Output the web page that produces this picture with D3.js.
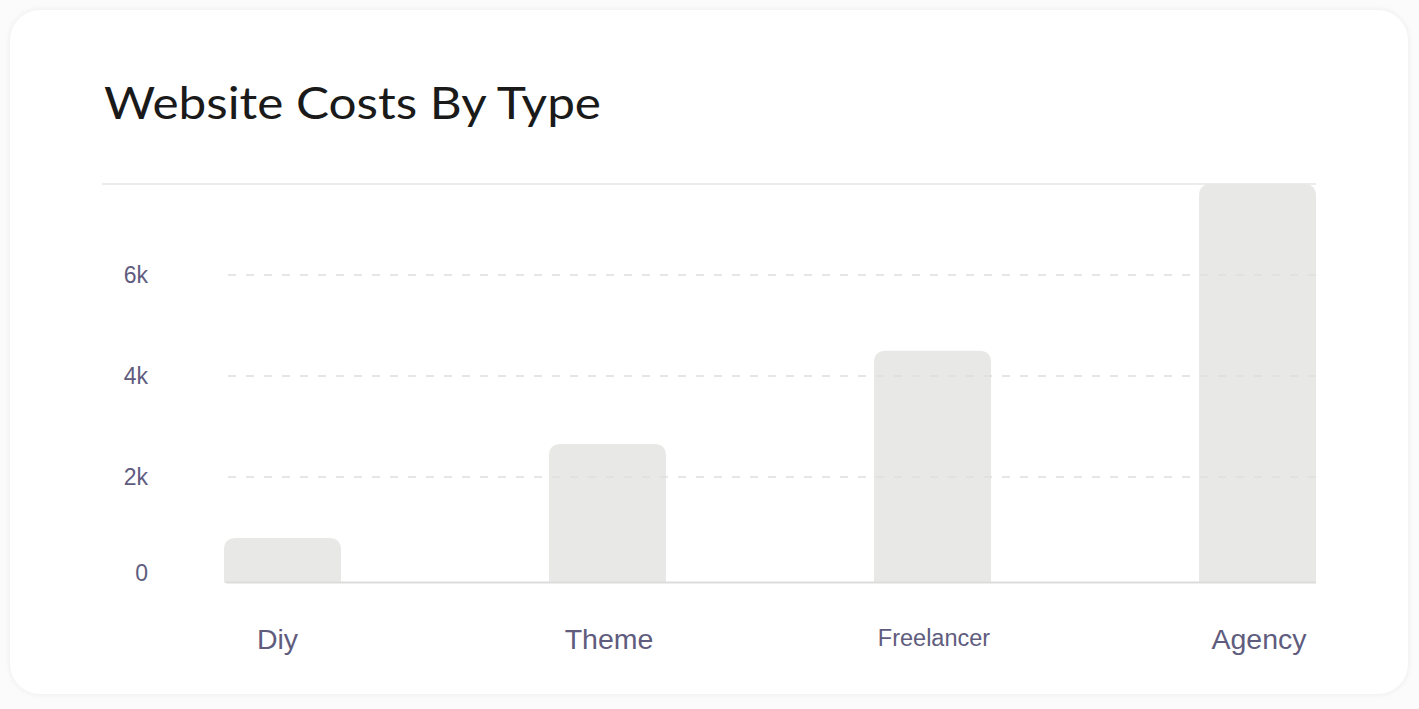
<!DOCTYPE html>
<html>
<head>
<meta charset="utf-8">
<script src="https://cdn.jsdelivr.net/npm/d3@7"></script>
<style>
  html, body { margin: 0; padding: 0; background: #fbfbfb; }
  #card {
    position: absolute; left: 10px; top: 10px; width: 1398px; height: 684px;
    background: #fff; border-radius: 30px;
    box-shadow: 0 0 6px rgba(0,0,0,0.07);
  }
  svg { position: absolute; left: 0; top: 0; }
</style>
</head>
<body>
<div id="card"></div>
<svg id="chart" width="1419" height="709"></svg>
<script>
var categories = ["Diy", "Theme", "Freelancer", "Agency"];
var costs = [790, 2650, 4500, 7800];
var yTicks = [0, 2000, 4000, 6000];
var tickLabels = ["0", "2k", "4k", "6k"];
var labelSizes = [28.5, 28.5, 23.5, 28.5];

var svg = d3.select("#chart");

var x = d3.scaleBand().domain(categories).range([224, 1316]).paddingInner(0.64).paddingOuter(0);
var y = d3.scaleLinear().domain([-100, 7800]).range([583, 184]);

// title
svg.append("text")
  .attr("x", 104).attr("y", 119)
  .attr("font-family", "Lato, 'Noto Sans', sans-serif")
  .attr("font-weight", 400)
  .attr("font-size", 45)
  .attr("fill", "#1a1a1a")
  .attr("textLength", 497)
  .attr("lengthAdjust", "spacingAndGlyphs")
  .text("Website Costs By Type");

// top rule
svg.append("line")
  .attr("x1", 102).attr("x2", 1316)
  .attr("y1", y(7800)).attr("y2", y(7800))
  .attr("stroke", "#e6e6e6").attr("stroke-width", 1.5);

// bars with rounded tops
var r = 12;
var barPath = function(d, i) {
  var x0 = x(categories[i]), w = x.bandwidth();
  var top = y(d), bottom = y.range()[0];
  return "M" + x0 + "," + bottom +
    "V" + (top + r) +
    "Q" + x0 + "," + top + " " + (x0 + r) + "," + top +
    "H" + (x0 + w - r) +
    "Q" + (x0 + w) + "," + top + " " + (x0 + w) + "," + (top + r) +
    "V" + bottom + "Z";
};
svg.append("g").selectAll("path")
  .data(costs)
  .join("path")
  .attr("d", barPath)
  .attr("fill", "#e8e8e6");

// baseline
svg.append("line")
  .attr("x1", 226).attr("x2", 1316)
  .attr("y1", 582.5).attr("y2", 582.5)
  .attr("stroke", "#dcdcdc").attr("stroke-width", 2);

// dashed grid
svg.append("g").selectAll("line")
  .data(yTicks.slice(1))
  .join("line")
  .attr("x1", 228).attr("x2", 1316)
  .attr("y1", function(d) { return y(d); })
  .attr("y2", function(d) { return y(d); })
  .attr("stroke", "#dedede").attr("stroke-width", 1.5)
  .attr("stroke-dasharray", "8,10");

// y labels
svg.append("g").selectAll("text")
  .data(yTicks)
  .join("text")
  .attr("x", 148)
  .attr("y", function(d, i) { return y(d) + (i === 0 ? 3 : 8); })
  .attr("text-anchor", "end")
  .attr("font-family", "'Liberation Sans', Arial, sans-serif")
  .attr("font-size", 23)
  .attr("fill", "#605c7e")
  .text(function(d, i) { return tickLabels[i]; });

// x labels
svg.append("g").selectAll("text")
  .data(categories)
  .join("text")
  .attr("x", function(d, i) { return x(d) + x.bandwidth() / 2 + (i === 0 ? -5 : 1.5); })
  .attr("y", function(d, i) { return i === 2 ? 646 : 649; })
  .attr("text-anchor", "middle")
  .attr("font-family", "'Liberation Sans', Arial, sans-serif")
  .attr("font-size", function(d, i) { return labelSizes[i]; })
  .attr("fill", "#605c7e")
  .text(function(d) { return d; });
</script>
</body>
</html>
